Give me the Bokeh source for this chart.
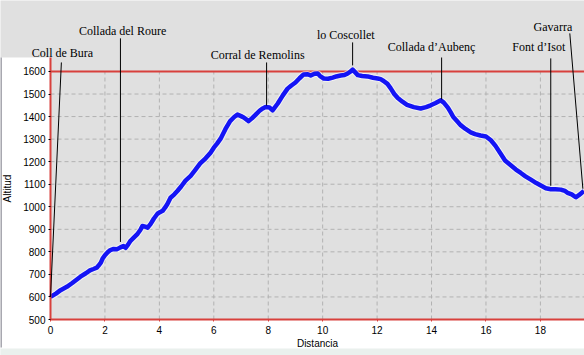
from bokeh.plotting import figure
from bokeh.models import (Range1d, FixedTicker, LabelSet, Arrow, ColumnDataSource,
                          BoxAnnotation, LinearAxis)
from bokeh.core.properties import value
from bokeh.embed import file_html
from bokeh.resources import INLINE

# ---- data ----
distance = [0.0, 0.2, 0.37, 0.6, 0.8, 1.1, 1.3, 1.45, 1.58, 1.7,
            1.76, 1.85, 1.91, 2.0, 2.1, 2.2, 2.32, 2.45, 2.57, 2.68,
            2.76, 2.85, 2.94, 3.05, 3.2, 3.3, 3.38, 3.48, 3.57, 3.68,
            3.8, 3.93, 4.02, 4.12, 4.22, 4.3, 4.41, 4.55, 4.67, 4.8,
            4.96, 5.15, 5.3, 5.5, 5.7, 5.88, 6.0, 6.12, 6.25, 6.43,
            6.6, 6.75, 6.87, 7.0, 7.1, 7.28, 7.4, 7.54, 7.7, 7.8,
            7.9, 8.05, 8.16, 8.35, 8.53, 8.71, 8.85, 9.0, 9.15, 9.3,
            9.45, 9.56, 9.7, 9.82, 9.92, 10.04, 10.2, 10.37, 10.5, 10.66,
            10.8, 10.92, 11.03, 11.1, 11.18, 11.29, 11.45, 11.65, 11.85, 12.02,
            12.13, 12.24, 12.38, 12.5, 12.63, 12.76, 12.93, 13.1, 13.35, 13.6,
            13.8, 13.97, 14.15, 14.34, 14.45, 14.6, 14.7, 14.8, 14.95, 15.07,
            15.25, 15.44, 15.6, 15.8, 16.0, 16.18, 16.35, 16.54, 16.7, 16.9,
            17.1, 17.28, 17.45, 17.65, 17.85, 18.0, 18.2, 18.38, 18.55, 18.75,
            18.9, 19.0, 19.15, 19.3, 19.4, 19.5, 19.6]
altitude = [600, 615, 630, 645, 662, 690, 705, 718, 724, 730,
            738, 752, 769, 785, 798, 808, 813, 812, 820, 826,
            818, 832, 849, 862, 880, 897, 915, 912, 907, 924,
            948, 969, 976, 982, 998, 1013, 1040, 1055, 1071, 1090,
            1116, 1137, 1160, 1192, 1215, 1240, 1262, 1280, 1302, 1345,
            1380, 1398, 1409, 1402, 1396, 1380, 1392, 1409, 1428, 1436,
            1442, 1440, 1428, 1458, 1493, 1524, 1538, 1551, 1570, 1587,
            1588, 1582, 1590, 1591, 1578, 1569, 1568, 1573, 1578, 1582,
            1584, 1591, 1600, 1608, 1598, 1584, 1580, 1578, 1572, 1569,
            1566, 1558, 1545, 1525, 1500, 1482, 1466, 1452, 1442, 1436,
            1442, 1450, 1460, 1472, 1462, 1440, 1420, 1398, 1378, 1362,
            1345, 1330, 1322, 1316, 1312, 1295, 1270, 1235, 1205, 1185,
            1165, 1150, 1135, 1120, 1105, 1095, 1082, 1078, 1078, 1076,
            1070, 1062, 1055, 1042, 1050, 1060, 1070]
assert len(distance) == len(altitude)

x_ticks = [0, 2, 4, 6, 8, 10, 12, 14, 16, 18]
y_ticks = [500, 600, 700, 800, 900, 1000, 1100, 1200, 1300, 1400, 1500, 1600]

places = ["Coll de Bura", "Collada del Roure", "Corral de Remolins", "lo Coscollet",
          "Collada d\u2019Auben\u00e7", "Font d\u2019Isot", "Gavarra"]
label_x = [0.44, 2.65, 7.61, 10.85, 14.0, 17.94, 18.46]
label_y = [1680, 1778, 1671, 1760, 1707, 1707, 1796]
pointer_x_top = [0.40, 2.57, 7.94, 11.10, 14.37, 18.38, 19.08]
pointer_y_top = [1640, 1747, 1640, 1729, 1662, 1658, 1769]
pointer_x_end = [0.0, 2.57, 7.94, 11.10, 14.37, 18.38, 19.56]
pointer_y_end = [600, 844, 1449, 1627, 1476, 1093, 1080]

# ---- layout: the plot area sits inside the canvas at these pixel offsets ----
W, H = 584, 355
LEFT, TOP, BOTTOM = 50, 57, 36
PX0, PX1 = 0, 19.62        # distance shown across the plot area
PY0, PY1 = 500, 1662       # altitude shown across the plot area
area_w = W - LEFT
area_h = H - TOP - BOTTOM
kx = area_w / (PX1 - PX0)
ky = area_h / (PY1 - PY0)
X0, X1 = PX0 - LEFT / kx, PX1
Y0, Y1 = PY0 - BOTTOM / ky, PY1 + TOP / ky

def x_at(px):
    return X0 + px / kx

def y_at(py):
    return Y1 - py / ky

RED = "#d8403c"
GRAY = "#e0e0e0"
GRID = "#b2b2b2"

p = figure(width=W, height=H, x_range=Range1d(X0, X1), y_range=Range1d(Y0, Y1),
           output_backend="svg", toolbar_location=None,
           min_border_left=0, min_border_right=0, min_border_top=0, min_border_bottom=0,
           x_axis_location=None, y_axis_location=None)
p.background_fill_color = GRAY
p.border_fill_color = GRAY
p.outline_line_color = None
p.xgrid.visible = False
p.ygrid.visible = False

# white margins left of and below the plot area
p.add_layout(BoxAnnotation(left=X0 - 1, right=PX0, bottom=Y0 - 100, top=PY1,
                           fill_color="white", fill_alpha=1, line_alpha=0, level="underlay"))
p.add_layout(BoxAnnotation(left=X0 - 1, right=X1 + 1, bottom=Y0 - 100, top=PY0,
                           fill_color="white", fill_alpha=1, line_alpha=0, level="underlay"))
p.add_layout(BoxAnnotation(left=X0 - 1, right=X1 + 1, bottom=Y0 - 100, top=y_at(348),
                           fill_color="#eaf0ed", fill_alpha=1, line_alpha=0, level="underlay"))
p.add_layout(BoxAnnotation(left=X0 - 1, right=x_at(1.5), bottom=y_at(347), top=PY1,
                           fill_color="#a8a8b0", fill_alpha=1, line_alpha=0, level="underlay"))

# grid
p.segment(x0=x_ticks, y0=[y_ticks[0]] * len(x_ticks), x1=x_ticks, y1=[y_ticks[-1]] * len(x_ticks),
          line_color=GRID, line_dash="4 3", line_width=1)
p.segment(x0=[PX0] * len(y_ticks), y0=y_ticks, x1=[PX1] * len(y_ticks), y1=y_ticks,
          line_color=GRID, line_dash="4 3", line_width=1)

# top reference line
p.segment(x0=[PX0], y0=[y_ticks[-1]], x1=[PX1], y1=[y_ticks[-1]], line_color=RED, line_width=2)

# profile
p.line(distance, altitude, line_color="white", line_width=6.5, line_alpha=0.6)
p.line(distance, altitude, line_color="#1414f5", line_width=4.5, line_join="round")

# axes drawn at fixed locations
xaxis = LinearAxis(fixed_location=PY0, ticker=FixedTicker(ticks=x_ticks), bounds=(PX0, PX1),
                   axis_label="Distancia")
yaxis = LinearAxis(fixed_location=PX0, ticker=FixedTicker(ticks=y_ticks), bounds=(PY0, PY1),
                   axis_label="Altitud")
for ax in (xaxis, yaxis):
    ax.axis_line_color = RED
    ax.axis_line_width = 2
    ax.minor_tick_line_color = None
    ax.major_tick_in = 0
    ax.major_tick_out = 2
    ax.major_label_text_font = "Liberation Sans"
    ax.major_label_text_font_size = "10px"
    ax.major_label_text_color = "black"
    ax.axis_label_text_font = "Liberation Sans"
    ax.axis_label_text_font_size = "10px"
    ax.axis_label_text_font_style = "normal"
    ax.axis_label_text_color = "black"
xaxis.major_tick_line_color = RED
yaxis.major_tick_line_color = "black"
xaxis.major_label_standoff = 4
yaxis.major_label_standoff = 3
xaxis.axis_label_standoff = 1
yaxis.axis_label_standoff = 7
p.add_layout(xaxis, "below")
p.add_layout(yaxis, "left")

# place pointers and names
ptr = ColumnDataSource(dict(xs=pointer_x_top, ys=pointer_y_top, xe=pointer_x_end, ye=pointer_y_end))
p.add_layout(Arrow(end=None, source=ptr, x_start="xs", y_start="ys", x_end="xe", y_end="ye",
                   line_color="black", line_width=1))
lab = ColumnDataSource(dict(x=label_x, y=label_y, name=places))
p.add_layout(LabelSet(x="x", y="y", text="name", source=lab,
                      text_font=value("Liberation Serif"), text_font_size="12px",
                      text_align="center", text_baseline="middle", text_color="black"))

open("out.html", "w").write(file_html(p, INLINE))
